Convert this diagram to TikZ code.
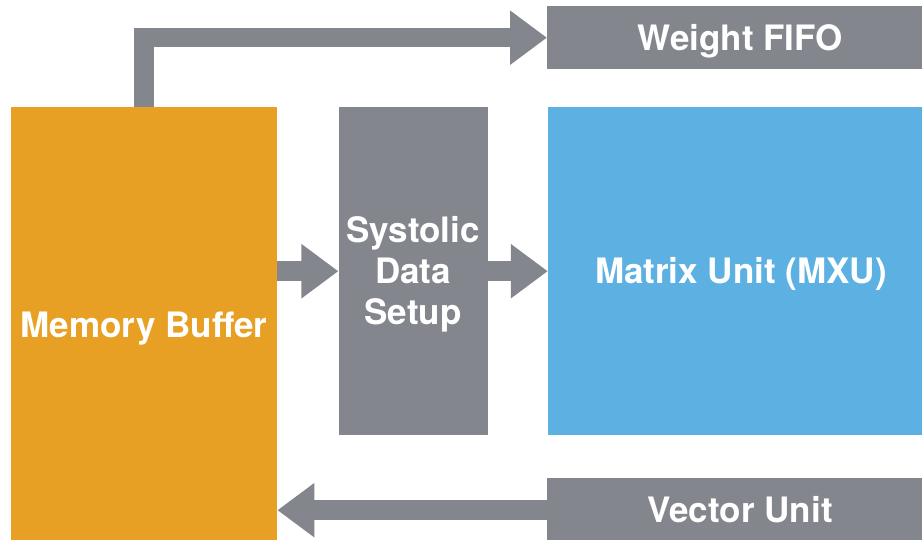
\documentclass[tikz,border=0pt]{standalone}
\usepackage{fontspec}
\setmainfont{TeX Gyre Heros}
\usepackage{tikz}
\usetikzlibrary{
  positioning,
  arrows.meta
}
\definecolor{bufferorange}{RGB}{232,160,36}
\definecolor{unitgray}{RGB}{132,134,141}
\definecolor{mxublue}{RGB}{93,177,226}

\begin{document}
\begin{tikzpicture}[x=1pt, y=-1pt,
  unit/.style = {rectangle, fill=#1, text=white, align=center, inner sep=0pt, text height=25pt, text depth=0pt, font=\bfseries\fontsize{35}{41}\selectfont},
  blockarrow/.style = {draw=unitgray, line width=19.5pt, line join=miter, -{Triangle[length=37pt, width=52pt]}}]
        \path[use as bounding box, clip] (0,0) rectangle (922,540);
        % nodes
        \node[unit=bufferorange, minimum width=266pt, minimum height=436pt, anchor=north west] (membuf) at (11,107) {Memory Buffer};
        \node[unit=unitgray, text height=106pt, minimum width=149pt, minimum height=328pt, right=61pt of membuf.north east, anchor=north west] (systolic) {Systolic\\Data\\Setup};
        \node[unit=mxublue, minimum width=386pt, minimum height=328pt, right=60pt of systolic.north east, anchor=north west] (mxu) {Matrix Unit (MXU)};
        \node[unit=unitgray, minimum width=386pt, minimum height=63pt, anchor=north west] (wfifo) at (547,6) {Weight FIFO};
        \node[unit=unitgray, minimum width=386pt, minimum height=64pt, anchor=north west] (vecunit) at (547,478) {Vector Unit};

        % connections
        \draw[blockarrow] (membuf.north) |- (wfifo.west);
        \draw[blockarrow] (membuf.east |- systolic) -- (systolic.west);
        \draw[blockarrow] (systolic.east) -- (mxu.west);
        \draw[blockarrow] (vecunit.west) -- (membuf.east |- vecunit.west);
\end{tikzpicture}
\end{document}
